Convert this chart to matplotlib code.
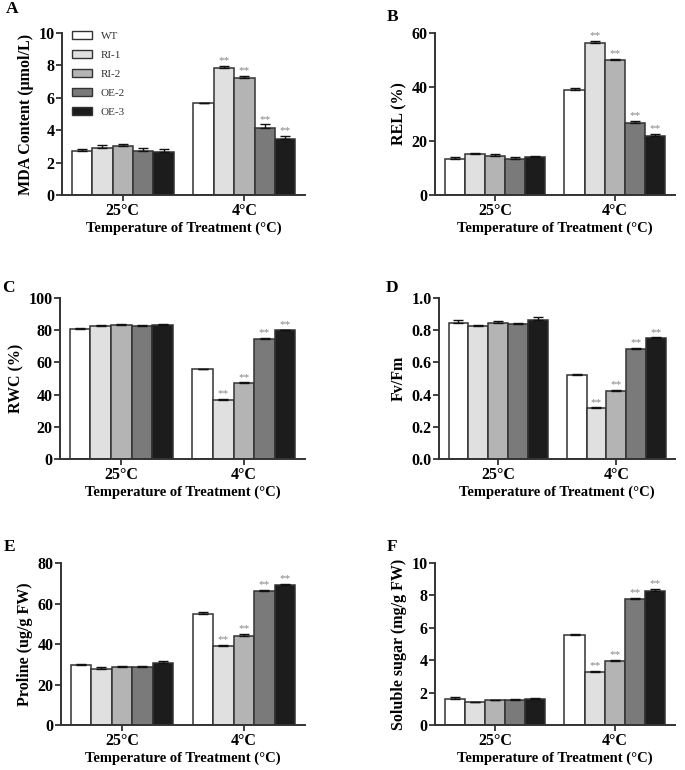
import numpy as np
import matplotlib
matplotlib.use("Agg")
import matplotlib.pyplot as plt
from matplotlib.patches import Patch

plt.rcParams['font.family'] = ['Liberation Serif', 'DejaVu Serif']

# datos
grupos = ['25°C', '4°C']
lineas = ['WT', 'RI-1', 'RI-2', 'OE-2', 'OE-3']
colores = ['#ffffff', '#e0e0e0', '#b4b4b4', '#7a7a7a', '#1c1c1c']

mda = [[2.72, 2.87, 3.0, 2.73, 2.65], [5.65, 7.86, 7.2, 4.15, 3.43]]
mda_err = [[0.1, 0.2, 0.14, 0.14, 0.16], [0.04, 0.12, 0.17, 0.2, 0.22]]

rel = [[13.5, 15.1, 14.4, 13.5, 13.9], [39.0, 56.3, 50.1, 26.5, 21.9]]
rel_err = [[0.5, 0.4, 0.8, 0.5, 0.5], [0.5, 0.7, 0.3, 0.8, 0.6]]

rwc = [[81.0, 82.9, 83.3, 82.7, 83.3], [55.7, 36.5, 47.2, 74.8, 79.8]]
rwc_err = [[0.3, 0.6, 0.6, 0.4, 0.5], [0.4, 0.6, 0.4, 0.5, 0.4]]

fvfm = [[0.847, 0.829, 0.843, 0.837, 0.864], [0.52, 0.315, 0.425, 0.685, 0.75]]
fvfm_err = [[0.015, 0.005, 0.012, 0.005, 0.02], [0.005, 0.005, 0.006, 0.007, 0.005]]

prolina = [[29.6, 27.9, 28.7, 28.9, 30.7], [54.7, 39.2, 44.0, 66.2, 69.0]]
prolina_err = [[0.7, 1.0, 0.5, 0.4, 1.0], [0.9, 0.4, 1.0, 0.4, 0.5]]

azucar = [[1.6, 1.4, 1.52, 1.52, 1.6], [5.58, 3.29, 3.94, 7.76, 8.3]]
azucar_err = [[0.1, 0.05, 0.03, 0.1, 0.05], [0.03, 0.06, 0.1, 0.07, 0.1]]

# marcas de significancia (solo 4°C, lineas transgenicas)
sig = [[False] * 5, [False, True, True, True, True]]

# letra, datos, error, etiqueta, ymax, paso, rect, posicion de la letra
paneles = [
    ('A', mda, mda_err, 'MDA Content (μmol/L)', 10, 2, [0.0905, 0.7468, 0.355, 0.2104], (-0.23, 1.15)),
    ('B', rel, rel_err, 'REL (%)', 60, 20, [0.635, 0.7468, 0.350, 0.2104], (-0.2, 1.1)),
    ('C', rwc, rwc_err, 'RWC (%)', 100, 20, [0.0876, 0.404, 0.358, 0.209], (-0.235, 1.06)),
    ('D', fvfm, fvfm_err, 'Fv/Fm', 1.0, 0.2, [0.641, 0.404, 0.345, 0.209], (-0.225, 1.06)),
    ('E', prolina, prolina_err, 'Proline (ug/g FW)', 80, 20, [0.089, 0.0584, 0.356, 0.2104], (-0.235, 1.1)),
    ('F', azucar, azucar_err, 'Soluble sugar (mg/g FW)', 10, 2, [0.635, 0.0584, 0.350, 0.2104], (-0.2, 1.1)),
]

fig = plt.figure(figsize=(6.85, 7.7), dpi=100)
ancho = 0.168
borde = '#333333'

for letra, datos, err, etiqueta, ymax, paso, rect, pos in paneles:
    ax = fig.add_axes(rect)
    for g in range(2):
        for i in range(5):
            x = g + (i - 2) * ancho
            ax.bar(x, datos[g][i], width=ancho, color=colores[i], edgecolor=borde,
                   linewidth=1.1, zorder=2)
            ax.errorbar(x, datos[g][i], yerr=[[0], [err[g][i]]], fmt='none',
                        ecolor='#111111', elinewidth=1.0, capsize=3.5, capthick=1.0, zorder=3)
            if sig[g][i]:
                ax.annotate('**', (x, datos[g][i] + err[g][i]), xytext=(0, 0.5),
                            textcoords='offset points', ha='center', va='bottom',
                            fontsize=8, color='#858585')
    ax.set_xlim(-0.5, 1.5)
    ax.set_ylim(0, ymax)
    ax.set_yticks(np.arange(0, ymax + paso / 2, paso))
    if ymax < 2:
        ax.set_yticklabels(['%.1f' % v for v in np.arange(0, ymax + paso / 2, paso)])
    ax.set_xticks([0, 1])
    ax.set_xticklabels(grupos)
    for s in ['top', 'right']:
        ax.spines[s].set_visible(False)
    for s in ['left', 'bottom']:
        ax.spines[s].set_linewidth(1.4)
        ax.spines[s].set_color(borde)
    ax.tick_params(direction='out', length=4, width=1.3, color=borde, labelsize=11.5,
                   pad=1.5)
    for t in ax.get_xticklabels() + ax.get_yticklabels():
        t.set_fontweight('bold')
    ax.set_ylabel(etiqueta, fontsize=11.5, fontweight='bold', labelpad=3)
    ax.set_xlabel('Temperature of Treatment (°C)', fontsize=10.5, fontweight='bold',
                  labelpad=2)
    ax.text(pos[0], pos[1], letra, transform=ax.transAxes, fontsize=12.5,
            fontweight='bold', ha='left', va='center')
    if letra == 'A':
        manijas = [Patch(facecolor=c, edgecolor=borde, linewidth=1.0) for c in colores]
        ax.legend(manijas, lineas, loc='upper left', bbox_to_anchor=(0.0, 1.075),
                  frameon=False, fontsize=8, handlelength=1.8, handleheight=0.8,
                  labelspacing=0.8, handletextpad=0.8, labelcolor='#333333')

plt.savefig('out.png', dpi=100)
